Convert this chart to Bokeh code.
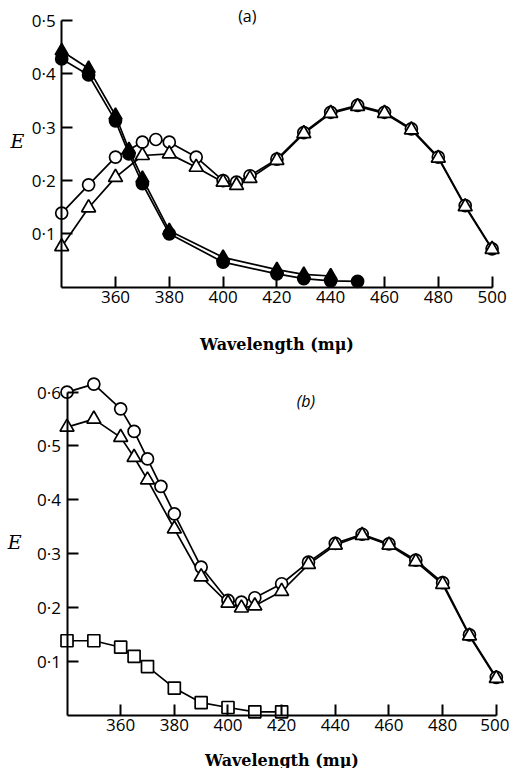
from bokeh.plotting import figure
from bokeh.layouts import column
from bokeh.models import LinearAxis, FixedTicker, Range1d, Label
from bokeh.embed import file_html
from bokeh.resources import INLINE

# ---------------- data: panel (a) ----------------
a_open_circle_wl = [340, 350, 360, 370, 375, 380, 390, 400, 405, 410, 420, 430, 440, 450, 460, 470, 480, 490, 500]
a_open_circle_E = [0.139, 0.192, 0.244, 0.272, 0.277, 0.272, 0.244, 0.200, 0.197, 0.209, 0.240, 0.290, 0.328, 0.341, 0.328, 0.297, 0.244, 0.153, 0.072]
a_open_tri_wl = [340, 350, 360, 370, 380, 390, 400, 405, 410, 420, 430, 440, 450, 460, 470, 480, 490, 500]
a_open_tri_E = [0.076, 0.149, 0.206, 0.247, 0.250, 0.225, 0.197, 0.191, 0.204, 0.238, 0.288, 0.326, 0.339, 0.326, 0.295, 0.242, 0.151, 0.071]
a_fill_tri_wl = [340, 350, 360, 365, 370, 380, 400, 420, 430, 440]
a_fill_tri_E = [0.443, 0.410, 0.322, 0.258, 0.204, 0.106, 0.056, 0.033, 0.024, 0.021]
a_fill_circle_wl = [340, 350, 360, 365, 370, 380, 400, 420, 430, 440, 450]
a_fill_circle_E = [0.428, 0.398, 0.312, 0.250, 0.194, 0.100, 0.047, 0.025, 0.016, 0.012, 0.011]

# ---------------- data: panel (b) ----------------
b_open_circle_wl = [340, 350, 360, 365, 370, 375, 380, 390, 400, 405, 410, 420, 430, 440, 450, 460, 470, 480, 490, 500]
b_open_circle_E = [0.600, 0.615, 0.569, 0.527, 0.476, 0.425, 0.374, 0.275, 0.213, 0.210, 0.218, 0.244, 0.284, 0.319, 0.336, 0.318, 0.288, 0.246, 0.149, 0.070]
b_open_tri_wl = [340, 350, 360, 365, 370, 380, 390, 400, 405, 410, 420, 430, 440, 450, 460, 470, 480, 490, 500]
b_open_tri_E = [0.535, 0.550, 0.516, 0.479, 0.437, 0.346, 0.257, 0.208, 0.199, 0.203, 0.230, 0.280, 0.316, 0.334, 0.316, 0.285, 0.243, 0.147, 0.068]
b_square_wl = [340, 350, 360, 365, 370, 380, 390, 400, 410, 420]
b_square_E = [0.138, 0.138, 0.126, 0.109, 0.090, 0.050, 0.023, 0.014, 0.006, 0.006]

# ---------------- ticks ----------------
x_ticks = [360, 380, 400, 420, 440, 460, 480, 500]
x_tick_labels = ["360", "380", "400", "420", "440", "460", "480", "500"]
y_ticks_a = [0.1, 0.2, 0.3, 0.4, 0.5]
y_tick_labels_a = ["0·1", "0·2", "0·3", "0·4", "0·5"]
y_ticks_b = [0.1, 0.2, 0.3, 0.4, 0.5, 0.6]
y_tick_labels_b = ["0·1", "0·2", "0·3", "0·4", "0·5", "0·6"]

x_label = "Wavelength (mμ)"
y_label = "E"

TICK_FONT = "Open Sans"
SERIF = "DejaVu Serif"


def make_fig(x_start, x_end, y_start, y_end, y_top, height,
             y_ticks, y_labels, xlabel_standoff):
    p = figure(frame_width=509, frame_height=height,
               x_range=Range1d(x_start, x_end), y_range=Range1d(y_start, y_end),
               x_axis_location=None, y_axis_location=None,
               toolbar_location=None, output_backend="svg",
               min_border_left=0, min_border_right=0,
               min_border_top=0, min_border_bottom=0)
    p.outline_line_color = None
    p.xgrid.visible = False
    p.ygrid.visible = False
    p.background_fill_color = "white"
    p.border_fill_color = "white"

    xa = LinearAxis(fixed_location=0, bounds=(340, 500),
                    ticker=FixedTicker(ticks=x_ticks, minor_ticks=[]),
                    major_label_overrides=dict(zip(x_ticks, x_tick_labels)))
    ya = LinearAxis(fixed_location=340, bounds=(0, y_top),
                    ticker=FixedTicker(ticks=y_ticks, minor_ticks=[]),
                    major_label_overrides=dict(zip(y_ticks, y_labels)))
    for ax in (xa, ya):
        ax.axis_line_width = 2
        ax.axis_line_color = "black"
        ax.major_tick_in = 11
        ax.major_tick_out = 0
        ax.major_tick_line_width = 2
        ax.major_tick_line_color = "black"
        ax.minor_tick_in = 0
        ax.minor_tick_out = 0
        ax.major_label_text_font = TICK_FONT
        ax.major_label_text_font_size = "17px"
        ax.major_label_text_color = "black"
    xa.major_label_standoff = 4
    ya.major_label_standoff = 6
    xa.axis_label = x_label
    xa.axis_label_text_font = SERIF
    xa.axis_label_text_font_style = "bold"
    xa.axis_label_text_font_size = "16px"
    xa.axis_label_text_color = "black"
    xa.axis_label_standoff = xlabel_standoff
    p.add_layout(xa, "below")
    p.add_layout(ya, "left")
    return p


def draw_line(p, wl, E):
    p.line(wl, E, line_color="black", line_width=1.7)


def marks(p, wl, E, marker, size, fill):
    p.scatter(wl, E, marker=marker, size=size, fill_color=fill,
              line_color="black", line_width=1.7)


# ---------------- panel (a) ----------------
pa = make_fig(317.25, 506.47, -0.1562, 0.5376, 0.5, 370, y_ticks_a, y_tick_labels_a, 28)
for wl, E in [(a_open_circle_wl, a_open_circle_E), (a_open_tri_wl, a_open_tri_E),
              (a_fill_tri_wl, a_fill_tri_E), (a_fill_circle_wl, a_fill_circle_E)]:
    draw_line(pa, wl, E)
marks(pa, a_open_circle_wl, a_open_circle_E, "circle", 12, "white")
marks(pa, a_open_tri_wl, a_open_tri_E, "triangle", 14, "white")
marks(pa, a_fill_circle_wl, a_fill_circle_E, "circle", 12, "black")
marks(pa, a_fill_tri_wl, a_fill_tri_E, "triangle", 13, "black")
pa.add_layout(Label(x=323.5, y=0.275, text=y_label, text_font=SERIF,
                    text_font_style="italic", text_font_size="19px",
                    text_align="center", text_baseline="middle", text_color="black"))
pa.add_layout(Label(x=409, y=0.509, text="(a)", text_font=TICK_FONT,
                    text_font_size="16px", text_align="center",
                    text_baseline="middle", text_color="black"))

# ---------------- panel (b) ----------------
pb = make_fig(315.21, 504.92, -0.0994, 0.6403, 0.6, 398, y_ticks_b, y_tick_labels_b, 16)
for wl, E in [(b_open_circle_wl, b_open_circle_E), (b_open_tri_wl, b_open_tri_E),
              (b_square_wl, b_square_E)]:
    draw_line(pb, wl, E)
marks(pb, b_open_circle_wl, b_open_circle_E, "circle", 12, "white")
marks(pb, b_open_tri_wl, b_open_tri_E, "triangle", 14, "white")
marks(pb, b_square_wl, b_square_E, "square", 12, "white")
pb.add_layout(Label(x=320.5, y=0.321, text=y_label, text_font=SERIF,
                    text_font_style="italic", text_font_size="19px",
                    text_align="center", text_baseline="middle", text_color="black"))
pb.add_layout(Label(x=429, y=0.583, text="(b)", text_font=TICK_FONT,
                    text_font_style="italic", text_font_size="16px",
                    text_align="center", text_baseline="middle", text_color="black"))

layout = column(pa, pb, spacing=0)
open("out.html", "w").write(file_html(layout, INLINE))
